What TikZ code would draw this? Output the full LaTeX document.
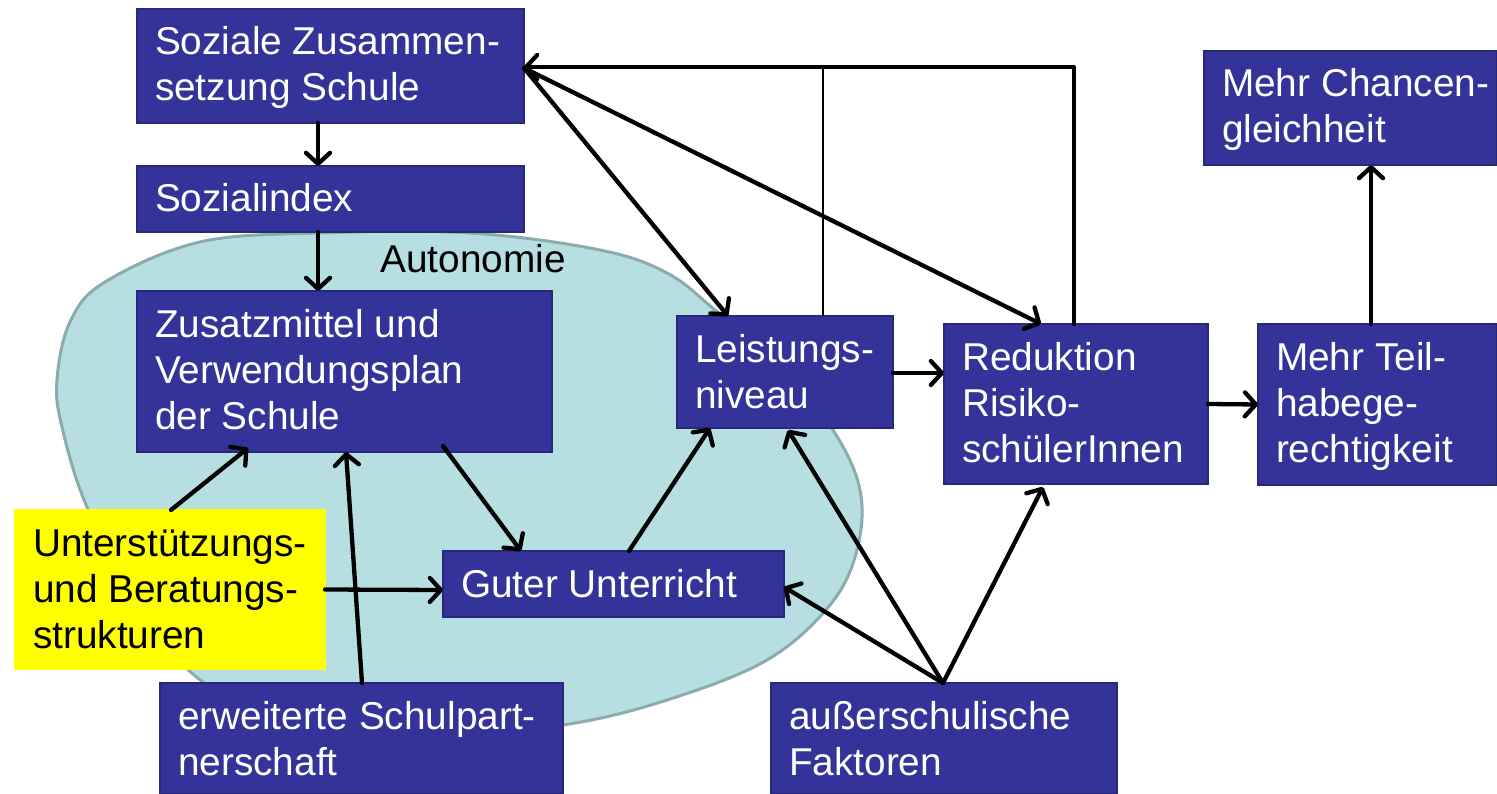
\documentclass[tikz,border=0pt]{standalone}
\usepackage{fontspec}
\setmainfont{Liberation Sans}
\usetikzlibrary{arrows.meta}
\definecolor{boxblue}{RGB}{51,51,153}
\definecolor{boxedge}{RGB}{40,40,120}
\definecolor{blobfill}{RGB}{183,223,226}
\definecolor{blobedge}{RGB}{138,172,172}
\definecolor{hiyellow}{RGB}{255,255,0}
% box content: width, height, lines separated by \par
\newcommand{\bxt}[3]{\vbox to #2pt{\hsize=#1pt\parindent=0pt\parskip=0pt\leftskip=18pt\rightskip=0pt plus 1fil\baselineskip=46pt\lineskiplimit=-60pt\noindent\rule{0pt}{46pt}#3\par\vfill}}
\tikzset{
  bluebox/.style={rectangle, fill=boxblue, draw=boxedge, line width=1.2pt, inner sep=0pt, outer sep=0pt, anchor=north west, text=white, font=\fontsize{38.8pt}{46pt}\selectfont},
  yellowbox/.style={bluebox, fill=hiyellow, draw=hiyellow, text=black},
  arr/.style={draw=black, line width=4.3pt, line cap=round, line join=round, -{Straight Barb[length=11pt,width=24pt,round]}},
  thinline/.style={draw=black, line width=2.8pt},
  blob/.style={fill=blobfill, draw=blobedge, line width=3pt}
}
\begin{document}
\begin{tikzpicture}[x=1pt,y=-1pt]
\fill[white] (0,0) rectangle (1497,794);
\useasboundingbox (0,0) rectangle (1497,794);

% Autonomie region
\draw[blob] plot[smooth cycle, tension=0.6] coordinates {
  (320,233) (470,233) (600,250) (667,273) (715,310) (780,365) (833,430)
  (860,490) (857,550) (830,605) (767,660) (667,700) (563,725) (420,738)
  (290,718) (203,682) (140,610) (87,507) (62,427) (57,380) (70,322)
  (105,282) (200,242)};
\node[anchor=base west, font=\fontsize{38.8pt}{46pt}\selectfont] (auto) at (377,273) {Autonomie};

% boxes
\node[bluebox] (sz) at (137,9)   {\bxt{387}{114}{Soziale Zusammen-\par setzung Schule}};
\node[bluebox] (si) at (137,166) {\bxt{387}{66}{Sozialindex}};
\node[bluebox] (zm) at (137,291) {\bxt{415}{161}{Zusatzmittel und\par Verwendungsplan\par der Schule}};
\node[yellowbox] (us) at (15,510) {\bxt{310}{159}{Unterstützungs-\par und Beratungs-\par strukturen}};
\node[bluebox] (gu) at (443,551) {\bxt{341}{66}{Guter Unterricht}};
\node[bluebox] (ln) at (677,316) {\bxt{216}{112}{Leistungs-\par niveau}};
\node[bluebox] (rr) at (944,324) {\bxt{264}{160}{Reduktion\par Risiko-\par schülerInnen}};
\node[bluebox] (mt) at (1258,324) {\bxt{239}{161}{Mehr Teil-\par habege-\par rechtigkeit}};
\node[bluebox] (mc) at (1204,51) {\bxt{293}{114}{Mehr Chancen-\par gleichheit}};
\node[bluebox] (es) at (160,683) {\bxt{403}{111}{erweiterte Schulpart-\par nerschaft}};
\node[bluebox] (af) at (771,683) {\bxt{346}{111}{außerschulische\par Faktoren}};

% connectors
\coordinate (topbar) at (1074,67);
\draw[arr] ([xshift=181pt]sz.south west) -- ([xshift=181pt]si.north west);
\draw[arr] ([xshift=181pt]si.south west) -- ([xshift=181pt]zm.north west);
\draw[arr] ([xshift=156pt]us.north west) -- ([xshift=111pt,yshift=4pt]zm.south west);
\draw[arr] ([xshift=202pt]es.north west) -- ([xshift=209pt]zm.south west);
\draw[arr] (us.east) -- ([yshift=-39pt]gu.north west);
\draw[arr] ([xshift=306pt,yshift=6pt]zm.south west) -- ([xshift=78pt]gu.north west);
\draw[arr] ([xshift=186pt]gu.north west) -- ([xshift=33pt]ln.south west);
\draw[arr] ([xshift=172pt]af.north west) -- ([xshift=111pt,yshift=-2pt]ln.south west);
\draw[arr] ([xshift=172pt]af.north west) -- ([yshift=-36pt]gu.north east);
\draw[arr] ([xshift=172pt]af.north west) -- ([xshift=99pt,yshift=-3pt]rr.south west);
\draw[arr] ([yshift=-57pt]ln.north east) -- ([yshift=-49pt]rr.north west);
\draw[arr] (rr.east) -- (mt.west);
\draw[arr] ([xshift=113pt]mt.north west) -- ([xshift=167pt]mc.south west);
\draw[arr] ([yshift=-59pt]sz.north east) -- ([xshift=51pt]ln.north west);
\draw[arr] ([yshift=-59pt]sz.north east) -- ([xshift=97pt]rr.north west);
\draw[arr] ([xshift=130pt]rr.north west) -- (topbar) -- ([yshift=-58pt]sz.north east);
\draw[thinline] ([xshift=146pt]ln.north west) -- ++(0,-249);
\end{tikzpicture}
\end{document}
